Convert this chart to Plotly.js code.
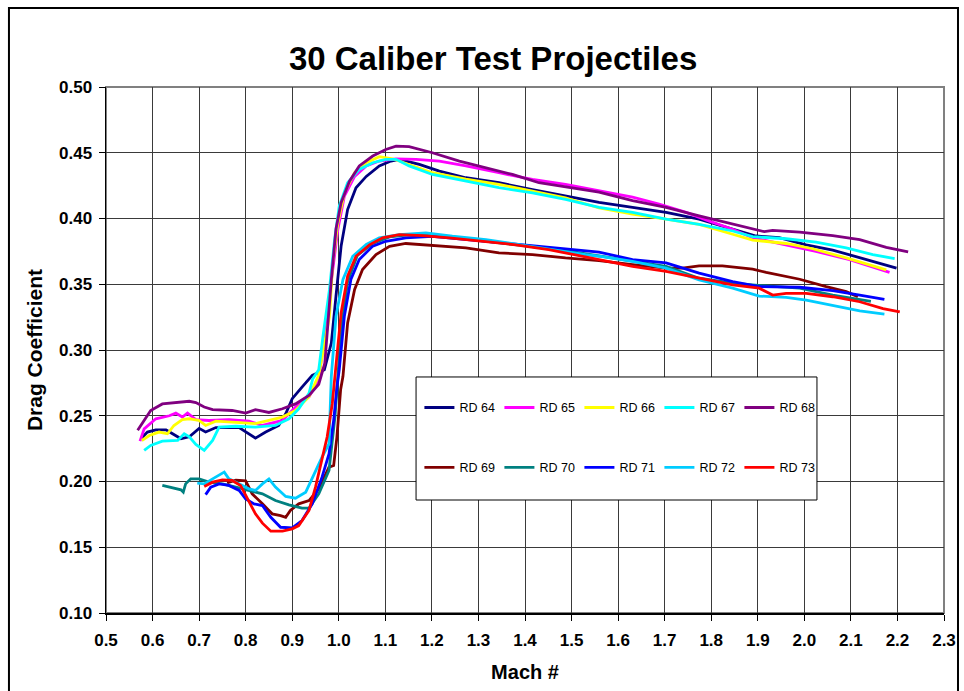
<!DOCTYPE html>
<html><head><meta charset="utf-8">
<script src="https://cdn.plot.ly/plotly-3.0.1.min.js"></script>
<style>html,body{margin:0;padding:0;background:#fff}#chart{width:964px;height:691px}</style>
</head><body><div id="chart"></div>
<script>
const names = ["RD 64","RD 65","RD 66","RD 67","RD 68","RD 69","RD 70","RD 71","RD 72","RD 73"];
const colors = ["#000080","#FF00FF","#FFFF00","#00FFFF","#800080","#800000","#008080","#0000FF","#00CCFF","#FF0000"];

const rd64_m = [0.575,0.589,0.607,0.629,0.643,0.661,0.679,0.700,0.714,0.736,0.786,0.807,0.821,0.843,0.871,0.886,0.900,0.921,0.943,0.969,0.984,0.994,1.005,1.019,1.037,1.059,1.087,1.112,1.130,1.173,1.216,1.273,1.344,1.416,1.487,1.559,1.631,1.703,1.774,1.846,1.896,1.946,2.004,2.061,2.119,2.198];
const rd64_cd = [0.2325,0.2376,0.2393,0.2393,0.2363,0.2325,0.2340,0.2404,0.2376,0.2410,0.2410,0.2363,0.2330,0.2376,0.2426,0.2515,0.2630,0.2718,0.2807,0.2850,0.3053,0.3410,0.3790,0.4068,0.4234,0.4320,0.4400,0.4437,0.4450,0.4411,0.4360,0.4310,0.4272,0.4220,0.4170,0.4123,0.4085,0.4046,0.3995,0.3918,0.3867,0.3854,0.3800,0.3760,0.3700,0.3623];

const rd65_m = [0.573,0.582,0.607,0.636,0.650,0.664,0.675,0.693,0.721,0.764,0.807,0.836,0.879,0.907,0.936,0.957,0.987,0.998,1.012,1.034,1.059,1.087,1.123,1.166,1.216,1.273,1.344,1.416,1.487,1.559,1.631,1.688,1.746,1.796,1.846,1.889,1.961,2.025,2.097,2.183];
const rd65_cd = [0.2307,0.2400,0.2477,0.2500,0.2520,0.2490,0.2520,0.2470,0.2464,0.2470,0.2459,0.2426,0.2464,0.2566,0.2645,0.2770,0.3610,0.3916,0.4170,0.4320,0.4400,0.4437,0.4454,0.4450,0.4437,0.4400,0.4348,0.4297,0.4259,0.4210,0.4162,0.4110,0.4046,0.3980,0.3918,0.3854,0.3800,0.3750,0.3687,0.3590];

const rd66_m = [0.577,0.593,0.614,0.632,0.646,0.664,0.679,0.700,0.714,0.736,0.779,0.821,0.850,0.879,0.907,0.936,0.957,0.980,0.987,0.998,1.012,1.034,1.059,1.087,1.116,1.151,1.201,1.273,1.344,1.416,1.487,1.559,1.631,1.703,1.774,1.846,1.889,1.961,2.018,2.090,2.176];
const rd66_cd = [0.2312,0.2350,0.2376,0.2363,0.2426,0.2470,0.2477,0.2464,0.2426,0.2459,0.2450,0.2440,0.2464,0.2490,0.2540,0.2645,0.2810,0.3256,0.3663,0.3967,0.4195,0.4348,0.4424,0.4470,0.4454,0.4410,0.4348,0.4300,0.4259,0.4208,0.4157,0.4080,0.4033,0.3995,0.3956,0.3880,0.3836,0.3810,0.3770,0.3700,0.3610];

const rd67_m = [0.582,0.596,0.621,0.654,0.668,0.679,0.693,0.711,0.729,0.743,0.779,0.821,0.864,0.893,0.914,0.936,0.944,0.957,0.966,0.980,0.991,1.001,1.019,1.044,1.073,1.101,1.123,1.151,1.201,1.273,1.344,1.416,1.487,1.559,1.631,1.703,1.774,1.846,1.889,1.961,2.025,2.090,2.147,2.194];
const rd67_cd = [0.2236,0.2274,0.2307,0.2312,0.2363,0.2340,0.2282,0.2236,0.2312,0.2414,0.2420,0.2414,0.2426,0.2477,0.2553,0.2670,0.2780,0.2850,0.3104,0.3460,0.3840,0.4094,0.4272,0.4373,0.4424,0.4450,0.4450,0.4400,0.4335,0.4284,0.4234,0.4195,0.4145,0.4085,0.4046,0.3995,0.3956,0.3905,0.3862,0.3846,0.3820,0.3777,0.3726,0.3695];

const rd68_m = [0.568,0.579,0.596,0.621,0.650,0.679,0.693,0.711,0.729,0.771,0.800,0.821,0.850,0.879,0.907,0.936,0.957,0.970,0.984,0.994,1.005,1.023,1.044,1.073,1.101,1.123,1.151,1.201,1.259,1.316,1.373,1.430,1.501,1.559,1.631,1.703,1.774,1.832,1.882,1.914,1.932,1.990,2.061,2.119,2.176,2.223];
const rd68_cd = [0.2390,0.2450,0.2540,0.2590,0.2600,0.2610,0.2600,0.2566,0.2546,0.2540,0.2520,0.2546,0.2525,0.2553,0.2590,0.2655,0.2740,0.2900,0.3536,0.3920,0.4120,0.4284,0.4400,0.4475,0.4525,0.4550,0.4546,0.4500,0.4437,0.4386,0.4335,0.4272,0.4234,0.4200,0.4136,0.4085,0.4020,0.3970,0.3930,0.3900,0.3910,0.3897,0.3870,0.3840,0.3780,0.3746];

const rd69_m = [0.760,0.779,0.800,0.814,0.836,0.857,0.875,0.886,0.896,0.914,0.936,0.957,0.979,0.989,0.996,1.004,1.009,1.019,1.034,1.051,1.080,1.109,1.144,1.201,1.273,1.344,1.416,1.487,1.559,1.631,1.703,1.738,1.774,1.824,1.889,1.918,1.990,2.047,2.090,2.115];
const rd69_cd = [0.1990,0.2010,0.2005,0.1906,0.1830,0.1754,0.1741,0.1728,0.1780,0.1830,0.1855,0.1944,0.2109,0.2122,0.2338,0.2700,0.2800,0.3206,0.3460,0.3612,0.3726,0.3789,0.3810,0.3794,0.3777,0.3739,0.3726,0.3700,0.3680,0.3649,0.3623,0.3623,0.3640,0.3640,0.3615,0.3590,0.3538,0.3482,0.3444,0.3405];

const rd70_m = [0.621,0.643,0.661,0.666,0.671,0.682,0.700,0.721,0.750,0.779,0.807,0.836,0.864,0.893,0.921,0.936,0.957,0.979,0.992,1.005,1.019,1.040,1.073,1.109,1.150,1.201,1.273,1.344,1.416,1.487,1.559,1.631,1.703,1.774,1.846,1.918,1.990,2.061,2.133,2.143];
const rd70_cd = [0.1970,0.1952,0.1937,0.1919,0.1982,0.2020,0.2020,0.1995,0.1982,0.1957,0.1932,0.1906,0.1855,0.1822,0.1797,0.1797,0.1906,0.2084,0.2500,0.3150,0.3520,0.3720,0.3810,0.3860,0.3875,0.3870,0.3845,0.3815,0.3785,0.3755,0.3715,0.3674,0.3636,0.3546,0.3508,0.3487,0.3470,0.3418,0.3374,0.3370];

const rd71_m = [0.714,0.725,0.743,0.764,0.786,0.800,0.818,0.836,0.854,0.875,0.900,0.921,0.943,0.964,0.979,0.989,0.996,1.001,1.012,1.026,1.044,1.073,1.101,1.144,1.201,1.273,1.344,1.416,1.487,1.559,1.595,1.631,1.703,1.774,1.846,1.903,1.990,2.061,2.119,2.172];
const rd71_cd = [0.1900,0.1957,0.1982,0.1970,0.1932,0.1868,0.1830,0.1817,0.1728,0.1652,0.1647,0.1703,0.1830,0.2033,0.2210,0.2465,0.2718,0.2850,0.3256,0.3536,0.3688,0.3790,0.3827,0.3853,0.3865,0.3840,0.3815,0.3789,0.3769,0.3745,0.3718,0.3687,0.3662,0.3585,0.3520,0.3482,0.3477,0.3451,0.3418,0.3385];

const rd72_m = [0.696,0.711,0.729,0.743,0.754,0.764,0.786,0.807,0.821,0.836,0.850,0.864,0.886,0.907,0.929,0.950,0.964,0.979,0.984,0.994,1.009,1.030,1.059,1.087,1.130,1.187,1.244,1.316,1.387,1.459,1.530,1.559,1.631,1.703,1.774,1.846,1.903,1.961,2.004,2.061,2.119,2.172];
const rd72_cd = [0.1987,0.1982,0.2020,0.2046,0.2071,0.2020,0.1982,0.1944,0.1932,0.1982,0.2020,0.1957,0.1886,0.1873,0.1919,0.2084,0.2185,0.2287,0.2800,0.3256,0.3536,0.3713,0.3802,0.3853,0.3878,0.3890,0.3865,0.3840,0.3800,0.3764,0.3726,0.3713,0.3674,0.3623,0.3533,0.3470,0.3410,0.3400,0.3380,0.3341,0.3297,0.3272];

const rd73_m = [0.711,0.729,0.750,0.771,0.789,0.807,0.821,0.836,0.854,0.879,0.900,0.914,0.936,0.950,0.964,0.975,0.986,0.993,1.005,1.019,1.037,1.066,1.094,1.130,1.180,1.237,1.309,1.380,1.451,1.523,1.559,1.631,1.703,1.774,1.846,1.903,1.932,1.961,2.004,2.061,2.119,2.169,2.205];
const rd73_cd = [0.1962,0.1995,0.2013,0.2008,0.1970,0.1855,0.1754,0.1683,0.1622,0.1622,0.1640,0.1665,0.1780,0.1957,0.2160,0.2338,0.2590,0.2845,0.3282,0.3561,0.3713,0.3800,0.3853,0.3878,0.3870,0.3853,0.3827,0.3800,0.3764,0.3713,0.3687,0.3636,0.3597,0.3546,0.3495,0.3470,0.3418,0.3431,0.3431,0.3405,0.3367,0.3315,0.3290];

const machs = [rd64_m,rd65_m,rd66_m,rd67_m,rd68_m,rd69_m,rd70_m,rd71_m,rd72_m,rd73_m];
const cds = [rd64_cd,rd65_cd,rd66_cd,rd67_cd,rd68_cd,rd69_cd,rd70_cd,rd71_cd,rd72_cd,rd73_cd];

const xTicks = [0.5,0.6,0.7,0.8,0.9,1.0,1.1,1.2,1.3,1.4,1.5,1.6,1.7,1.8,1.9,2.0,2.1,2.2,2.3];
const yTicks = [0.10,0.15,0.20,0.25,0.30,0.35,0.40,0.45,0.50];

const F = "Liberation Sans, Arial, sans-serif";
const traces = names.map((n,i)=>({
  type:'scatter', mode:'lines', name:n, x:machs[i], y:cds[i],
  line:{color:colors[i], width:2.8},
  legend: i<5 ? 'legend' : 'legend2'
}));

const legendCommon = {orientation:'h', entrywidth:35, entrywidthmode:'pixels', itemwidth:30,
  bgcolor:'rgba(0,0,0,0)', borderwidth:0, font:{family:F, size:12.5, color:'#000'},
  xanchor:'left', yanchor:'middle', xref:'paper', yref:'paper', tracegroupgap:0};

const layout = {
  width:964, height:691,
  margin:{l:106, r:20, t:87, b:78},
  paper_bgcolor:'#fff', plot_bgcolor:'#fff',
  title:{text:'<b>30 Caliber Test Projectiles</b>', font:{family:F, size:33, color:'#000'},
    x:0.5115, xanchor:'center', y:0.916, yanchor:'middle'},
  xaxis:{range:[0.5,2.3], tickvals:xTicks, ticktext:xTicks.map(v=>'<b>'+v.toFixed(1)+'</b>'),
    showgrid:true, gridcolor:'#3a3a3a', gridwidth:1, zeroline:false,
    showline:true, linecolor:'#000', linewidth:1.5, ticks:'outside', ticklen:6, tickcolor:'#000',
    ticklabelstandoff:5,
    tickfont:{family:F, size:17, color:'#000'},
    title:{text:'<b>Mach #</b>', font:{family:F, size:20, color:'#000'}, standoff:16}},
  yaxis:{range:[0.10,0.50], tickvals:yTicks, ticktext:yTicks.map(v=>'<b>'+v.toFixed(2)+'</b>'),
    showgrid:true, gridcolor:'#3a3a3a', gridwidth:1, zeroline:false,
    showline:true, linecolor:'#000', linewidth:1.5, ticks:'outside', ticklen:6, tickcolor:'#000',
    ticklabelstandoff:3,
    tickfont:{family:F, size:17, color:'#000'},
    title:{text:'<b>Drag Coefficient</b>', font:{family:F, size:21, color:'#000'}, standoff:10}},
  legend: Object.assign({x:0.374, y:0.39}, legendCommon),
  legend2: Object.assign({x:0.374, y:0.276}, legendCommon),
  shapes:[
    {type:'rect', xref:'paper', yref:'paper', x0:0, x1:1, y0:0, y1:1, line:{color:'#808080', width:2}, layer:'below'},
    {type:'rect', xref:'paper', yref:'paper', x0:0.370, x1:0.8484, y0:0.2148, y1:0.4487, fillcolor:'#fff', line:{color:'#000', width:1}, layer:'above'},
    {type:'rect', xref:'paper', yref:'paper', x0:-0.1158, x1:1.0167, y0:-0.17, y1:1.150, line:{color:'#000', width:2}, layer:'above'}
  ],
  showlegend:true
};

Plotly.newPlot('chart', traces, layout, {displayModeBar:false, staticPlot:true});
</script></body></html>
